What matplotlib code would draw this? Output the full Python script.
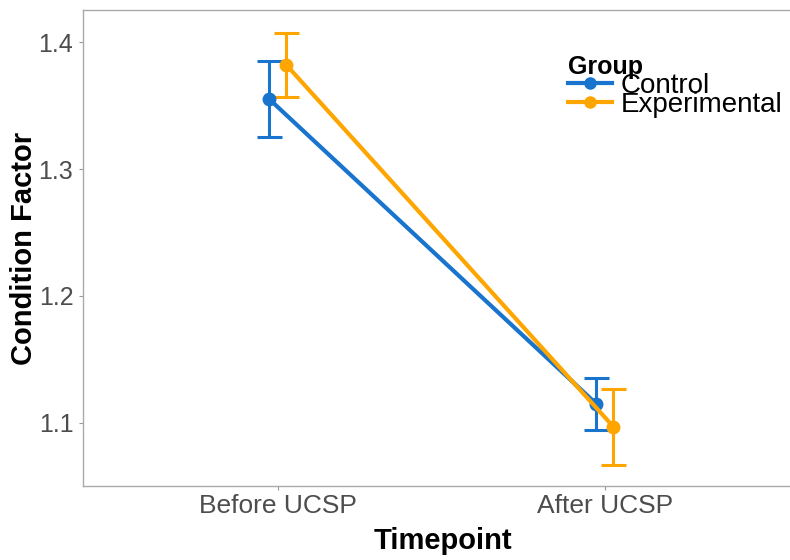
import matplotlib.pyplot as plt
from matplotlib.lines import Line2D

plt.rcParams['font.family'] = ['Liberation Sans', 'DejaVu Sans']

timepoints = ['Before UCSP', 'After UCSP']
groups = ['Control', 'Experimental']
control_mean = [1.355, 1.115]
control_err = [0.030, 0.0205]
exp_mean = [1.382, 1.097]
exp_err = [0.025, 0.030]

colors = {'Control': '#1874CD', 'Experimental': '#FFA500'}
dodge = 0.026

fig = plt.figure(figsize=(7.9, 5.6), dpi=100)
# right edge of the panel runs past the figure border
ax = fig.add_axes([83 / 790, 74 / 560, 720 / 790, 476 / 560])

xs = [1, 2]
series = [('Control', control_mean, control_err, -dodge),
          ('Experimental', exp_mean, exp_err, dodge)]
for name, mean, err, off in series:
    x = [v + off for v in xs]
    ax.plot(x, mean, color=colors[name], lw=3, marker='o', ms=9, zorder=3)
    ax.errorbar(x, mean, yerr=err, fmt='none', ecolor=colors[name],
                elinewidth=2.2, capsize=9, capthick=2.2, zorder=2)

ax.set_xlim(0.404, 2.606)
ax.set_ylim(1.0503, 1.4253)
ax.set_xticks(xs)
ax.set_xticklabels(timepoints)
ax.set_yticks([1.1, 1.2, 1.3, 1.4])
ax.set_yticklabels(['1.1', '1.2', '1.3', '1.4'])
ax.tick_params(labelsize=19, labelcolor='#4D4D4D', color='#999999',
               length=3, width=0.8, pad=3)
ax.tick_params(axis='y', labelsize=18, pad=4)
for s in ax.spines.values():
    s.set_color('#AAAAAA')
    s.set_linewidth(1)

ax.set_xlabel('Timepoint', fontsize=21, fontweight='bold', labelpad=6)
ax.set_ylabel('Condition Factor', fontsize=21, fontweight='bold')
ax.yaxis.set_label_coords(-0.063, 0.5)

handles = [Line2D([], [], color=colors[g], lw=3, marker='o', ms=8) for g in groups]
leg = ax.legend(handles, groups, title='Group', loc='upper left',
                bbox_to_anchor=(568 / 790, 1 - 55 / 560), bbox_transform=fig.transFigure,
                frameon=False, prop={'size': 20}, labelspacing=-0.23,
                handlelength=1.6, handletextpad=0.3, borderaxespad=0,
                borderpad=0, alignment='left',
                title_fontproperties={'weight': 'bold', 'size': 18})

fig.savefig('out.png', dpi=100)
